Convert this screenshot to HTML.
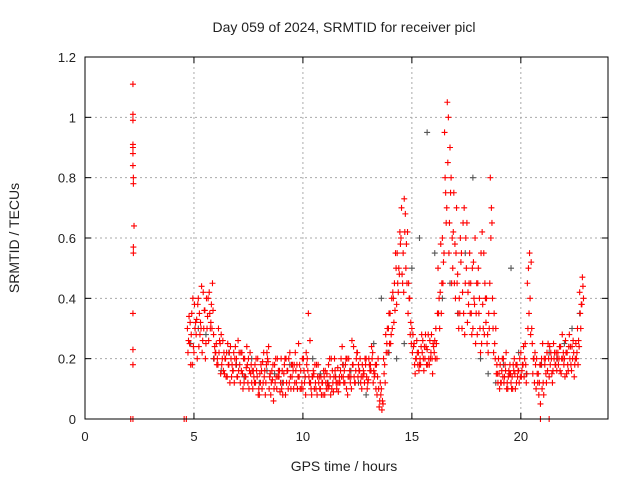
<!DOCTYPE html>
<html><head><meta charset="utf-8"><style>
body{margin:0;background:#fff}
svg text{font-family:"Liberation Sans",sans-serif;fill:#222}
</style></head><body>
<svg id="chart" width="640" height="480" xmlns="http://www.w3.org/2000/svg">
<text x="344" y="32" font-size="14" text-anchor="middle">Day 059 of 2024, SRMTID for receiver picl</text>
<text x="19" y="238" font-size="14" text-anchor="middle" transform="rotate(-90 19 238)">SRMTID / TECUs</text>
<text x="344" y="471" font-size="14" text-anchor="middle">GPS time / hours</text>
<g id="grid"></g><g id="marks"></g>
<rect x="85" y="57" width="523" height="362" fill="none" stroke="#000"/>
</svg>
<script>
const xTicks=[0,5,10,15,20];
const yTicks=[0,0.2,0.4,0.6,0.8,1,1.2];
const yTickLabels=["0","0.2","0.4","0.6","0.8","1","1.2"];
const startHour=4.7, stepHour=0.1;
const seriesA=[.30,.25,.35,.22,.28,.40,.32,.26,.36,.30,.42,.38,.28,.22,.18,.25,.20,.15,.22,.18,.20,.16,.24,.14,.18,.22,.12,.17,.20,.15,.10,.18,.14,.08,.16,.22,.12,.19,.15,.13,.18,.10,.14,.20,.12,.08,.16,.22,.14,.18,.12,.25,.16,.10,.14,.20,.12,.08,.15,.10,.18,.10,.12,.08,.15,.11,.20,.09,.14,.17,.12,.24,.16,.10,.20,.14,.18,.12,.22,.16,.10,.15,.20,.13,.18,.22,.15,.08,.04,.10,.20,.28,.22,.35,.30,.45,.38,.50,.60,.55,.68,.62,.40,.30,.25,.20,.22,.18,.26,.20,.23,.18,.28,.24,.30,.50,.42,.60,.95,.70,.55,.80,.62,.40,.48,.35,.30,.70,.50,.38,.45,.30,.60,.28,.40,.25,.55,.32,.22,.80,.40,.25,.18,.15,.12,.20,.16,.10,.18,.14,.20,.12,.16,.22,.18,.25,.45,.55,.30,.20,.10,.15,.05,.25,.18,.22,.14,.20,.25,.18,.22,.16,.28,.20,.15,.24,.18,.26,.20,.30,.42,.38];
const seriesB=[.22,.32,.18,.38,.33,.24,.30,.42,.20,.34,.35,.30,.20,.25,.30,.15,.26,.20,.14,.22,.14,.22,.18,.26,.12,.15,.20,.24,.10,.18,.16,.12,.20,.15,.10,.14,.18,.24,.08,.18,.12,.20,.16,.10,.15,.20,.10,.14,.18,.12,.18,.14,.10,.20,.08,.16,.26,.14,.10,.18,.12,.14,.08,.16,.12,.20,.10,.14,.12,.09,.16,.18,.12,.20,.14,.10,.24,.16,.14,.20,.18,.12,.14,.20,.16,.12,.18,.14,.06,.03,.15,.22,.30,.25,.42,.36,.55,.48,.70,.42,.50,.35,.28,.22,.18,.26,.16,.24,.20,.28,.18,.26,.20,.22,.25,.35,.58,.45,.80,1.05,.65,.45,.75,.55,.35,.60,.42,.28,.65,.45,.35,.52,.25,.45,.30,.62,.28,.40,.35,.60,.30,.20,.15,.10,.16,.12,.22,.14,.15,.10,.15,.18,.12,.14,.24,.18,.30,.40,.25,.12,.20,.08,.18,.12,.20,.16,.24,.15,.20,.22,.18,.24,.20,.14,.22,.28,.16,.22,.25,.18,.35,.47];
const seriesC=[.26,.18,.40,.30,.20,.35,.44,.30,.25,.40,.30,.45,.24,.18,.22,.28,.16,.20,.25,.12,.18,.12,.20,.16,.22,.10,.14,.18,.16,.12,.14,.20,.08,.12,.19,.16,.22,.10,.12,.06,.20,.14,.09,.16,.18,.12,.20,.10,.16,.22,.10,.18,.12,.16,.22,.35,.12,.14,.18,.08,.14,.08,.16,.12,.10,.14,.16,.20,.10,.12,.20,.14,.18,.08,.16,.26,.14,.20,.18,.12,.14,.20,.10,.18,.24,.16,.10,.20,.12,.06,.18,.25,.35,.28,.40,.55,.45,.62,.48,.73,.58,.45,.32,.28,.15,.22,.18,.28,.16,.24,.28,.20,.15,.26,.20,.40,.35,.52,.75,.85,.90,.60,.45,.70,.30,.52,.65,.45,.32,.55,.28,.40,.35,.50,.22,.38,.45,.25,.30,.70,.22,.30,.12,.18,.20,.14,.10,.16,.12,.18,.10,.14,.20,.16,.14,.12,.50,.28,.15,.22,.15,.12,.20,.08,.15,.25,.18,.12,.22,.16,.20,.15,.22,.26,.18,.20,.24,.14,.20,.26,.30,.44];
const seriesD=[.34,.28,.24,.32,.38,.28,.22,.36,.40,.26,.32,.36,.22,.20,.26,.18,.22,.14,.18,.24,.16,.20,.14,.22,.16,.20,.14,.12,.22,.16,.12,.16,.10,.18,.12,.08,.20,.14,.16,.10,.14,.16,.12,.08,.20,.16,.12,.18,.10,.16,.14,.10,.20,.12,.18,.14,.10,.16,.12,.14,.10,.12,.14,.10,.18,.08,.12,.16,.12,.14,.14,.12,.20,.14,.12,.18,.12,.22,.16,.14,.16,.18,.12,.16,.20,.14,.18,.10,.08,.05,.12,.30,.25,.40,.32,.50,.42,.58,.45,.62,.45,.40,.25,.24,.20,.18,.20,.22,.24,.18,.20,.22,.25,.20,.35,.30,.45,.55,.65,1.00,.75,.50,.58,.45,.40,.55,.35,.60,.42,.35,.50,.38,.45,.35,.55,.30,.40,.28,.45,.65,.35,.15,.20,.12,.14,.18,.12,.15,.10,.16,.18,.16,.14,.18,.20,.15,.35,.52,.20,.18,.12,.18,.10,.20,.12,.20,.22,.16,.18,.20,.24,.20,.18,.22,.16,.24,.20,.18,.22,.24,.38,.40];
const grayStep=0.35;
const grayVals=[.25,.30,.28,.20,.16,.22,.18,.14,.20,.12,.16,.15,.12,.18,.10,.14,.20,.15,.12,.14,.18,.16,.12,.08,.25,.40,.22,.20,.25,.50,.60,.95,.55,.40,.45,.35,.55,.80,.20,.15,.12,.18,.50,.22,.15,.20,.18,.22,.20,.25,.30,.35];
const earlyHours=[2.2,2.2,2.2,2.2,2.2,2.2,2.22,2.22,2.2,2.25,2.22,2.22,2.2,2.2,2.2];
const earlyVals=[1.11,1.01,0.99,0.90,0.88,0.84,0.80,0.78,0.91,0.64,0.57,0.55,0.35,0.23,0.18];
const zeroHours=[2.1,2.2,4.55,4.65,20.9,21.3];
const zeroVals=[0,0,0,0,0,0];

const X0=85,X1=608,Y0=419,Y1=57,XMAX=24;
const xs=h=>X0+h/XMAX*(X1-X0);
const ys=v=>Y0-v/1.2*(Y0-Y1);
const NS="http://www.w3.org/2000/svg";
const grid=document.getElementById('grid'),marks=document.getElementById('marks');
function mk(t,a,p){const e=document.createElementNS(NS,t);for(const k in a)e.setAttribute(k,a[k]);p.appendChild(e);return e;}
xTicks.forEach(t=>{
 const x=xs(t);
 if(t>0){const g=mk('line',{x1:x,x2:x,y1:Y1,y2:Y0,stroke:'#aaa','stroke-dasharray':'2,3'},grid);
 
 }
 mk('line',{x1:x,x2:x,y1:Y0,y2:Y0-6,stroke:'#000'},grid);
 mk('line',{x1:x,x2:x,y1:Y1,y2:Y1+6,stroke:'#000'},grid);
 const l=mk('text',{x:x,y:Y0+22,'font-size':13,'text-anchor':'middle'},grid);l.textContent=t;
 
 
});
yTicks.forEach((t,i)=>{
 const y=ys(t);
 if(t>0&&t<1.2){const g=mk('line',{x1:X0,x2:X1,y1:y,y2:y,stroke:'#aaa','stroke-dasharray':'2,3'},grid);
 
 }
 mk('line',{x1:X0,x2:X0+6,y1:y,y2:y,stroke:'#000'},grid);
 mk('line',{x1:X1,x2:X1-6,y1:y,y2:y,stroke:'#000'},grid);
 const l=mk('text',{x:X0-9,y:y+5,'font-size':13,'text-anchor':'end'},grid);l.textContent=yTickLabels[i];
 
 
});
function plus(h,v,col,name){
 const x=xs(h),y=ys(v);
 const p=mk('path',{d:`M${x-3},${y}H${x+3}M${x},${y-3}V${y+3}`,stroke:col,'stroke-width':1.1,fill:'none'},marks);
 
 
}
grayVals.forEach((v,i)=>plus(startHour+0.15+i*grayStep,v,'#555','gray-point'));
[seriesA,seriesB,seriesC,seriesD].forEach((s,k)=>s.forEach((v,i)=>plus(startHour+i*stepHour+k*0.025,v,'#f00','red-point')));
earlyHours.forEach((h,i)=>plus(h,earlyVals[i],'#f00','early-point'));
zeroHours.forEach((h,i)=>plus(h,zeroVals[i],'#f00','zero-point'));
</script>
</body></html>
